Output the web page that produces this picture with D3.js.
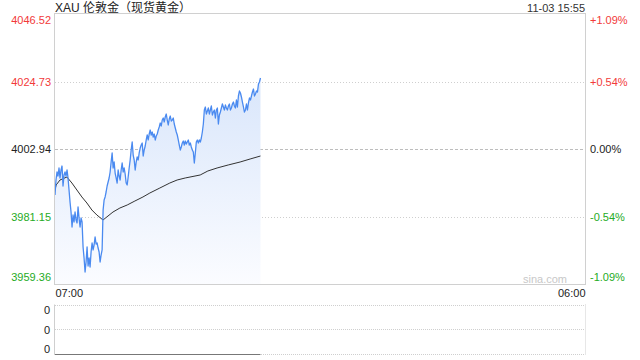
<!DOCTYPE html>
<html>
<head>
<meta charset="utf-8">
<script src="https://cdn.jsdelivr.net/npm/d3@7"></script>
<style>
  body { margin: 0; background: #fff; }
  svg { display: block; font-family: "Liberation Sans", Arial, "Noto Sans CJK SC", sans-serif; }
</style>
</head>
<body>
<script>
// XAU london gold, intraday
var title = "XAU 伦敦金（现货黄金）";
var stamp = "11-03 15:55";
var prevClose = 4002.94;
var priceTicks = [3959.36, 3981.15, 4002.94, 4024.73, 4046.52];
var pctTicks = ["-1.09%", "-0.54%", "0.00%", "+0.54%", "+1.09%"];
var timeLabels = ["07:00", "06:00"];
var sessionMinutes = 1380;   // 07:00 -> 06:00 next day
var lastMinute = 535;        // 15:55

var prices = [
  3988.09, 3992.93, 3995.52, 3994.22, 3996.81, 3993.58, 3996.16, 3997.45, 3991.00, 3994.55,
  3995.52, 3994.22, 3996.16, 3993.58, 3989.70, 3985.83, 3982.60, 3977.76, 3981.63, 3979.37,
  3982.60, 3980.02, 3979.05, 3984.22, 3980.67, 3977.76, 3980.67, 3979.37, 3971.30, 3967.75,
  3963.23, 3966.46, 3971.30, 3965.17, 3967.75, 3964.85, 3969.69, 3972.60, 3970.34, 3971.95,
  3974.53, 3972.27, 3972.60, 3970.98, 3969.69, 3966.46, 3968.72, 3970.34, 3983.25, 3986.48,
  3987.45, 3989.06, 3991.00, 3992.29, 3993.58, 3995.52, 3998.74, 4001.65, 3996.81, 3998.74,
  3995.19, 3993.58, 3991.96, 3996.16, 3994.22, 3992.93, 3996.16, 3998.42, 3995.52, 3996.81,
  3994.87, 3991.96, 3991.32, 3993.90, 3996.81, 3999.39, 4002.62, 4005.20, 4001.00, 3999.39,
  3996.16, 3998.74, 4000.36, 3999.39, 4001.65, 4003.26, 4004.23, 4004.88, 4000.68, 4002.62,
  4003.91, 4005.85, 4007.46, 4005.85, 4007.78, 4009.07, 4007.46, 4008.43, 4006.81, 4007.78,
  4005.85, 4007.14, 4007.78, 4009.07, 4010.04, 4011.33, 4010.36, 4012.30, 4012.95, 4011.66,
  4013.27, 4014.24, 4012.30, 4010.69, 4012.62, 4013.59, 4011.98, 4012.30, 4012.95, 4011.01,
  4009.72, 4008.43, 4007.46, 4005.85, 4004.23, 4002.62, 4003.59, 4004.88, 4005.52, 4004.23,
  4005.52, 4004.55, 4005.20, 4005.85, 4004.23, 4004.88, 4003.59, 4002.62, 4001.97, 3998.42,
  4001.65, 4005.20, 4005.85, 4004.88, 4005.85, 4005.20, 4006.49, 4008.43, 4011.01, 4015.53,
  4016.50, 4014.24, 4015.21, 4016.18, 4014.24, 4015.53, 4016.82, 4013.92, 4014.88, 4015.53,
  4012.95, 4015.53, 4016.18, 4011.01, 4013.92, 4014.88, 4016.18, 4017.47, 4016.50, 4015.53,
  4017.14, 4016.18, 4015.53, 4016.82, 4017.47, 4015.53, 4016.18, 4017.47, 4018.11, 4016.82,
  4016.18, 4018.76, 4016.50, 4020.05, 4021.66, 4021.02, 4019.73, 4018.11, 4016.50, 4014.88,
  4015.53, 4017.47, 4015.53, 4017.79, 4019.40, 4018.76, 4020.05, 4021.34, 4022.31, 4020.05,
  4020.69, 4021.66, 4021.34, 4023.92, 4024.57, 4025.86
];

var avgTimes = [0, 3, 13, 31, 44, 57, 70, 83, 96, 109, 125, 138, 151, 169, 188, 208,
                229, 247, 273, 299, 318, 339, 378, 398, 422, 451, 482, 508, 535];
var avgPrices = [3989.70, 3991.32, 3992.93, 3993.90, 3991.96, 3989.70, 3987.45, 3985.51, 3983.25,
                 3981.63, 3980.02, 3981.31, 3982.60, 3983.89, 3984.86, 3986.15, 3987.45, 3988.74,
                 3990.35, 3991.96, 3992.93, 3993.58, 3994.55, 3995.84, 3996.81, 3997.78, 3998.74,
                 3999.71, 4000.68];

var volumeTicks = [0, 0, 0];
var volumeTimes = [0, 535];
var volumes = [0, 0];

var width = 640, height = 360;
var plotL = 55, plotR = 585, plotT = 14, plotB = 284;
var volT = 304.5, volB = 354;

var red = "#f23a3a", green = "#25ab25", black = "#222";
function tone(v) { return v > prevClose + 0.001 ? red : (v < prevClose - 0.001 ? green : black); }

var svg = d3.select("body").append("svg")
  .attr("width", width)
  .attr("height", height);

var x = d3.scaleLinear().domain([0, sessionMinutes]).range([plotL, plotR]);
var y = d3.scaleLinear().domain([priceTicks[0], priceTicks[4]]).range([plotB, plotT]);

// sample times spread over 07:00 .. 15:55
var step = lastMinute / (prices.length - 1);
var series = prices.map(function(p, i) { return { t: i * step, v: p }; });
var avgSeries = avgTimes.map(function(t, i) { return { t: t, v: avgPrices[i] }; });

var defs = svg.append("defs");
var grad = defs.append("linearGradient")
  .attr("id", "fillGrad")
  .attr("gradientUnits", "userSpaceOnUse")
  .attr("x1", 0).attr("x2", 0)
  .attr("y1", y(d3.max(prices))).attr("y2", plotB);
grad.append("stop").attr("offset", "0%").attr("stop-color", "#d9e6fb");
grad.append("stop").attr("offset", "100%").attr("stop-color", "#fbfcff");

// title + stamp
svg.append("text").attr("x", plotL).attr("y", 12)
  .style("font-size", "12px").attr("fill", "#222").text(title);
svg.append("text").attr("x", plotR).attr("y", 12)
  .attr("text-anchor", "end").style("font-size", "11px").attr("fill", "#333").text(stamp);

// grid lines (inner ones)
svg.append("g").selectAll("line")
  .data(priceTicks.slice(1, 4))
  .enter().append("line")
  .attr("x1", plotL).attr("x2", plotR)
  .attr("y1", function(d) { return Math.round(y(d)) + 0.5; })
  .attr("y2", function(d) { return Math.round(y(d)) + 0.5; })
  .attr("stroke", function(d) { return d === prevClose ? "#bdbdbd" : "#cfcfcf"; })
  .attr("stroke-dasharray", function(d) { return d === prevClose ? "3,2" : "1,2"; });

// area + lines
var area = d3.area()
  .x(function(d) { return x(d.t); })
  .y0(plotB)
  .y1(function(d) { return y(d.v); });
var line = d3.line()
  .x(function(d) { return x(d.t); })
  .y(function(d) { return y(d.v); });

svg.append("path").datum(series).attr("d", area).attr("fill", "url(#fillGrad)");
svg.append("path").datum(avgSeries).attr("d", line)
  .attr("fill", "none").attr("stroke", "#333").attr("stroke-width", 1);
svg.append("path").datum(series).attr("d", line)
  .attr("fill", "none").attr("stroke", "#4a8af0").attr("stroke-width", 1.3)
  .attr("stroke-linejoin", "round");

// frame
svg.append("rect")
  .attr("x", plotL - 0.5).attr("y", plotT - 0.5)
  .attr("width", plotR - plotL + 1).attr("height", plotB - plotT + 1)
  .attr("fill", "none").attr("stroke", "#d0d0d0");

svg.append("text").attr("x", 545).attr("y", 283)
  .attr("text-anchor", "middle").style("font-size", "11px").attr("fill", "#c8c8c8").text("sina.com");

// left price axis
var yAxisL = svg.append("g")
  .attr("transform", "translate(" + (plotL - 4) + ",0)")
  .call(d3.axisLeft(y).tickValues(priceTicks).tickSize(0).tickPadding(0).tickFormat(d3.format(".2f")));
yAxisL.select(".domain").remove();
yAxisL.selectAll("text")
  .style("font-size", "11px").style("font-family", "Liberation Sans, Arial, sans-serif")
  .attr("fill", function(d) { return tone(d); })
  .attr("dy", function(d, i) { return i === 0 ? "-0.3em" : (i === 4 ? "0.85em" : "0.32em"); });

// right pct axis
var yAxisR = svg.append("g")
  .attr("transform", "translate(" + (plotR + 5) + ",0)")
  .call(d3.axisRight(y).tickValues(priceTicks).tickSize(0).tickPadding(0)
    .tickFormat(function(d, i) { return pctTicks[i]; }));
yAxisR.select(".domain").remove();
yAxisR.selectAll("text")
  .style("font-size", "11px").style("font-family", "Liberation Sans, Arial, sans-serif")
  .attr("fill", function(d) { return tone(d); })
  .attr("dy", function(d, i) { return i === 0 ? "-0.3em" : (i === 4 ? "0.85em" : "0.32em"); });

// time axis
var xAxis = svg.append("g")
  .attr("transform", "translate(0," + (plotB + 3) + ")")
  .call(d3.axisBottom(x).tickValues([0, sessionMinutes]).tickSize(0).tickPadding(0)
    .tickFormat(function(d, i) { return timeLabels[i]; }));
xAxis.select(".domain").remove();
xAxis.selectAll("text")
  .style("font-size", "11px").style("font-family", "Liberation Sans, Arial, sans-serif")
  .attr("fill", "#222").attr("dy", "0.95em")
  .attr("text-anchor", function(d, i) { return i === 0 ? "start" : "end"; });

// volume panel
var vy = d3.scaleLinear().domain([0, 1]).range([volB, volT]);
var volGrid = [volT, (volT + volB) / 2, volB];
svg.append("g").selectAll("line")
  .data(volGrid).enter().append("line")
  .attr("x1", plotL).attr("x2", plotR)
  .attr("y1", function(d) { return Math.round(d) + 0.5; })
  .attr("y2", function(d) { return Math.round(d) + 0.5; })
  .attr("stroke", "#cfcfcf").attr("stroke-dasharray", "1,1");
svg.append("line")
  .attr("x1", plotL - 0.5).attr("x2", plotL - 0.5).attr("y1", volT).attr("y2", volB + 1)
  .attr("stroke", "#cfcfcf");
svg.append("line")
  .attr("x1", plotR + 0.5).attr("x2", plotR + 0.5).attr("y1", volT).attr("y2", volB + 1)
  .attr("stroke", "#cfcfcf").attr("stroke-dasharray", "1,1");

var volLine = d3.line()
  .x(function(d, i) { return x(volumeTimes[i]); })
  .y(function(d) { return Math.round(vy(d)) + 0.5; });
svg.append("path").datum(volumes).attr("d", volLine)
  .attr("fill", "none").attr("stroke", "#777").attr("stroke-width", 1);

var volLabelY = [310, 330, 349];
svg.append("g").selectAll("text")
  .data(volumeTicks).enter().append("text")
  .attr("x", plotL - 5)
  .attr("y", function(d, i) { return volLabelY[i]; })
  .attr("dy", "0.35em")
  .attr("text-anchor", "end")
  .style("font-size", "11px")
  .attr("fill", "#222")
  .text(function(d) { return d; });
</script>
</body>
</html>
